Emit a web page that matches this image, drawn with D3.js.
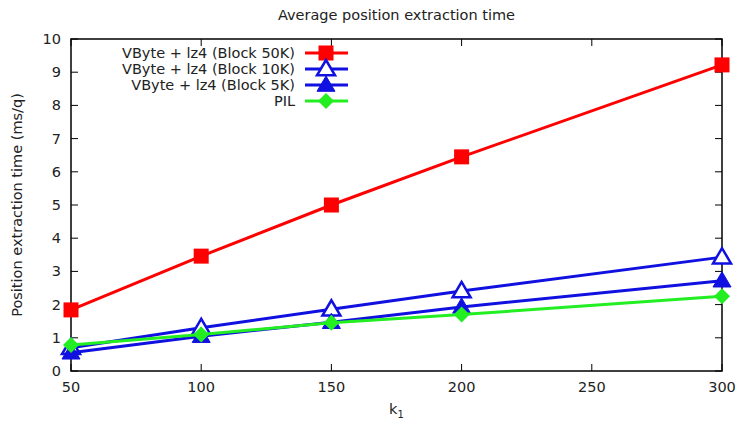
<!DOCTYPE html>
<html>
<head>
<meta charset="utf-8">
<script src="https://cdn.jsdelivr.net/npm/d3@7"></script>
<style>
  body { margin: 0; background: #fff; }
  text { font-family: "DejaVu Sans", sans-serif; fill: #222; }
</style>
</head>
<body>
<div id="vis"></div>
<script>
// data
var kValues = [50, 100, 150, 200, 300];
var block50K = [1.84, 3.46, 5.0, 6.45, 9.22];
var block10K = [0.7, 1.3, 1.86, 2.41, 3.43];
var block5K = [0.55, 1.05, 1.47, 1.93, 2.72];
var pil = [0.78, 1.1, 1.45, 1.7, 2.25];
var xTicks = [50, 100, 150, 200, 250, 300];
var yTicks = [0, 1, 2, 3, 4, 5, 6, 7, 8, 9, 10];

var series = [
  {name: 'VByte + lz4 (Block 50K)', values: block50K, color: '#ff0000', marker: 'square'},
  {name: 'VByte + lz4 (Block 10K)', values: block10K, color: '#1010e0', marker: 'triangleOpen'},
  {name: 'VByte + lz4 (Block 5K)', values: block5K, color: '#1010e0', marker: 'triangle'},
  {name: 'PIL', values: pil, color: '#22ee22', marker: 'diamond'}
];

var width = 737, height = 421;
var margin = {left: 71, right: 15, top: 39, bottom: 50};
var fs = 14.5;

var svg = d3.select('#vis').append('svg')
  .attr('width', width)
  .attr('height', height);

var x = d3.scaleLinear().domain([50, 300]).range([margin.left, width - margin.right]);
var y = d3.scaleLinear().domain([0, 10]).range([height - margin.bottom, margin.top]);

// frame
svg.append('rect')
  .attr('x', x(50)).attr('y', y(10))
  .attr('width', x(300) - x(50)).attr('height', y(0) - y(10))
  .attr('fill', 'none').attr('stroke', '#000').attr('stroke-width', 1.5);

// ticks inward on all four sides
var tickLen = 7;
xTicks.forEach(function (t) {
  svg.append('line').attr('x1', x(t)).attr('x2', x(t)).attr('y1', y(0)).attr('y2', y(0) - tickLen).attr('stroke', '#000');
  svg.append('line').attr('x1', x(t)).attr('x2', x(t)).attr('y1', y(10)).attr('y2', y(10) + tickLen).attr('stroke', '#000');
  svg.append('text').attr('x', x(t)).attr('y', y(0) + 21)
    .attr('text-anchor', 'middle').attr('font-size', fs).text(t);
});
yTicks.forEach(function (t) {
  svg.append('line').attr('x1', x(50)).attr('x2', x(50) + tickLen).attr('y1', y(t)).attr('y2', y(t)).attr('stroke', '#000');
  svg.append('line').attr('x1', x(300)).attr('x2', x(300) - tickLen).attr('y1', y(t)).attr('y2', y(t)).attr('stroke', '#000');
  svg.append('text').attr('x', x(50) - 10).attr('y', y(t)).attr('dy', '0.35em')
    .attr('text-anchor', 'end').attr('font-size', fs).text(t);
});

// titles
svg.append('text').attr('x', (x(50) + x(300)) / 2).attr('y', 20)
  .attr('text-anchor', 'middle').attr('font-size', fs).text('Average position extraction time');
var xl = svg.append('text').attr('x', (x(50) + x(300)) / 2).attr('y', 414)
  .attr('text-anchor', 'middle').attr('font-size', fs);
xl.append('tspan').text('k');
xl.append('tspan').attr('font-size', 10).attr('dy', 4).text('1');
svg.append('text')
  .attr('transform', 'translate(22,' + (y(5)) + ') rotate(-90)')
  .attr('text-anchor', 'middle').attr('font-size', fs).text('Position extraction time (ms/q)');

function drawMarker(g, type, color, cx, cy) {
  if (type === 'square') {
    g.append('rect').attr('x', cx - 7.5).attr('y', cy - 7.5).attr('width', 15).attr('height', 15).attr('fill', color);
  } else if (type === 'triangle' || type === 'triangleOpen') {
    var s = 9;
    var pts = [[cx, cy - s], [cx - s, cy + s * 0.7], [cx + s, cy + s * 0.7]];
    g.append('polygon').attr('points', pts.map(function (p) { return p.join(','); }).join(' '))
      .attr('fill', type === 'triangle' ? color : '#fff')
      .attr('stroke', color).attr('stroke-width', type === 'triangle' ? 1 : 2.5);
  } else if (type === 'diamond') {
    var d = 8;
    var pts2 = [[cx, cy - d], [cx + d, cy], [cx, cy + d], [cx - d, cy]];
    g.append('polygon').attr('points', pts2.map(function (p) { return p.join(','); }).join(' ')).attr('fill', color);
  }
}

var line = d3.line().x(function (d, i) { return x(kValues[i]); }).y(function (d) { return y(d); });

series.forEach(function (s) {
  var g = svg.append('g');
  g.append('path').datum(s.values).attr('d', line)
    .attr('fill', 'none').attr('stroke', s.color).attr('stroke-width', 3);
  s.values.forEach(function (v, i) {
    drawMarker(g, s.marker, s.color, x(kValues[i]), y(v));
  });
});

// legend
series.forEach(function (s, i) {
  var ly = 53 + i * 16;
  var g = svg.append('g');
  g.append('text').attr('x', 295).attr('y', ly).attr('dy', '0.35em')
    .attr('text-anchor', 'end').attr('font-size', fs).text(s.name);
  g.append('line').attr('x1', 305).attr('x2', 348).attr('y1', ly).attr('y2', ly)
    .attr('stroke', s.color).attr('stroke-width', 3);
  drawMarker(g, s.marker, s.color, 326, ly);
});
</script>
</body>
</html>
